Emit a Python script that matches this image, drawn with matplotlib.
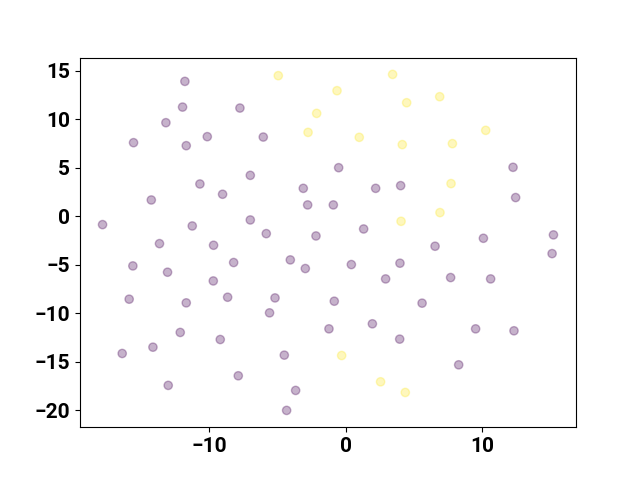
import numpy as np
import matplotlib
matplotlib.use('Agg')
import matplotlib.pyplot as plt

plt.rcParams['font.family'] = ['Roboto', 'DejaVu Sans']

# точки первого класса (фиолетовые)
x0 = [-11.77, -11.94, -7.74, -13.16, -15.53, -11.67, -10.13, -6.98, -10.67, -9.01,
      -14.23, -17.8, -11.23, -6.98, -13.63, -9.67, -6.03, -0.51, -3.1, 2.2,
      4.03, -2.78, -0.9, -5.81, -2.17, 1.32, 12.26, 12.45, 10.09, 15.22,
      -15.58, -13.04, -8.2, -9.69, -15.85, -11.67, -8.64, -12.11, -9.18, -16.36,
      -14.11, -7.86, -12.99, -4.05, -2.95, 0.42, 3.98, 2.93, -5.17, -5.57,
      -0.83, -1.22, 1.96, 3.96, -4.49, -3.66, -4.32, 6.55, 15.12, 7.69,
      10.62, 5.6, 9.52, 12.33, 8.28]
y0 = [13.9, 11.25, 11.15, 9.64, 7.58, 7.27, 8.2, 4.21, 3.32, 2.26,
      1.67, -0.87, -1.01, -0.39, -2.83, -3.0, 8.16, 5.0, 2.87, 2.87,
      3.15, 1.16, 1.16, -1.8, -2.04, -1.32, 5.04, 1.92, -2.28, -1.93,
      -5.13, -5.78, -4.78, -6.68, -8.56, -8.94, -8.36, -11.99, -12.72, -14.16,
      -13.51, -16.46, -17.45, -4.51, -5.4, -4.99, -4.85, -6.47, -8.43, -9.97,
      -8.77, -11.62, -11.1, -12.68, -14.33, -17.97, -20.03, -3.1, -3.86, -6.33,
      -6.47, -8.97, -11.62, -11.82, -15.33]

# точки второго класса (жёлтые)
x1 = [-4.93, 3.44, -0.63, 4.47, -2.12, -2.75, 1.0, 4.15, 4.06, 6.89,
      10.26, 7.82, 7.72, 6.91, -0.29, 2.56, 4.37]
y1 = [14.49, 14.62, 12.94, 11.7, 10.6, 8.64, 8.13, 7.38, -0.53, 12.32,
      8.85, 7.48, 3.36, 0.37, -14.37, -17.08, -18.18]

x = np.array(x0 + x1)
y = np.array(y0 + y1)
labels = np.array([0] * len(x0) + [1] * len(x1))

fig, ax = plt.subplots(figsize=(6.4, 4.8), dpi=100)
ax.scatter(x, y, c=labels, cmap='viridis', alpha=0.3)
ax.set_xticks([-10, 0, 10])
for lab in ax.get_xticklabels() + ax.get_yticklabels():
    lab.set_fontweight('bold')
    lab.set_fontsize(15)
fig.savefig('out.png')
